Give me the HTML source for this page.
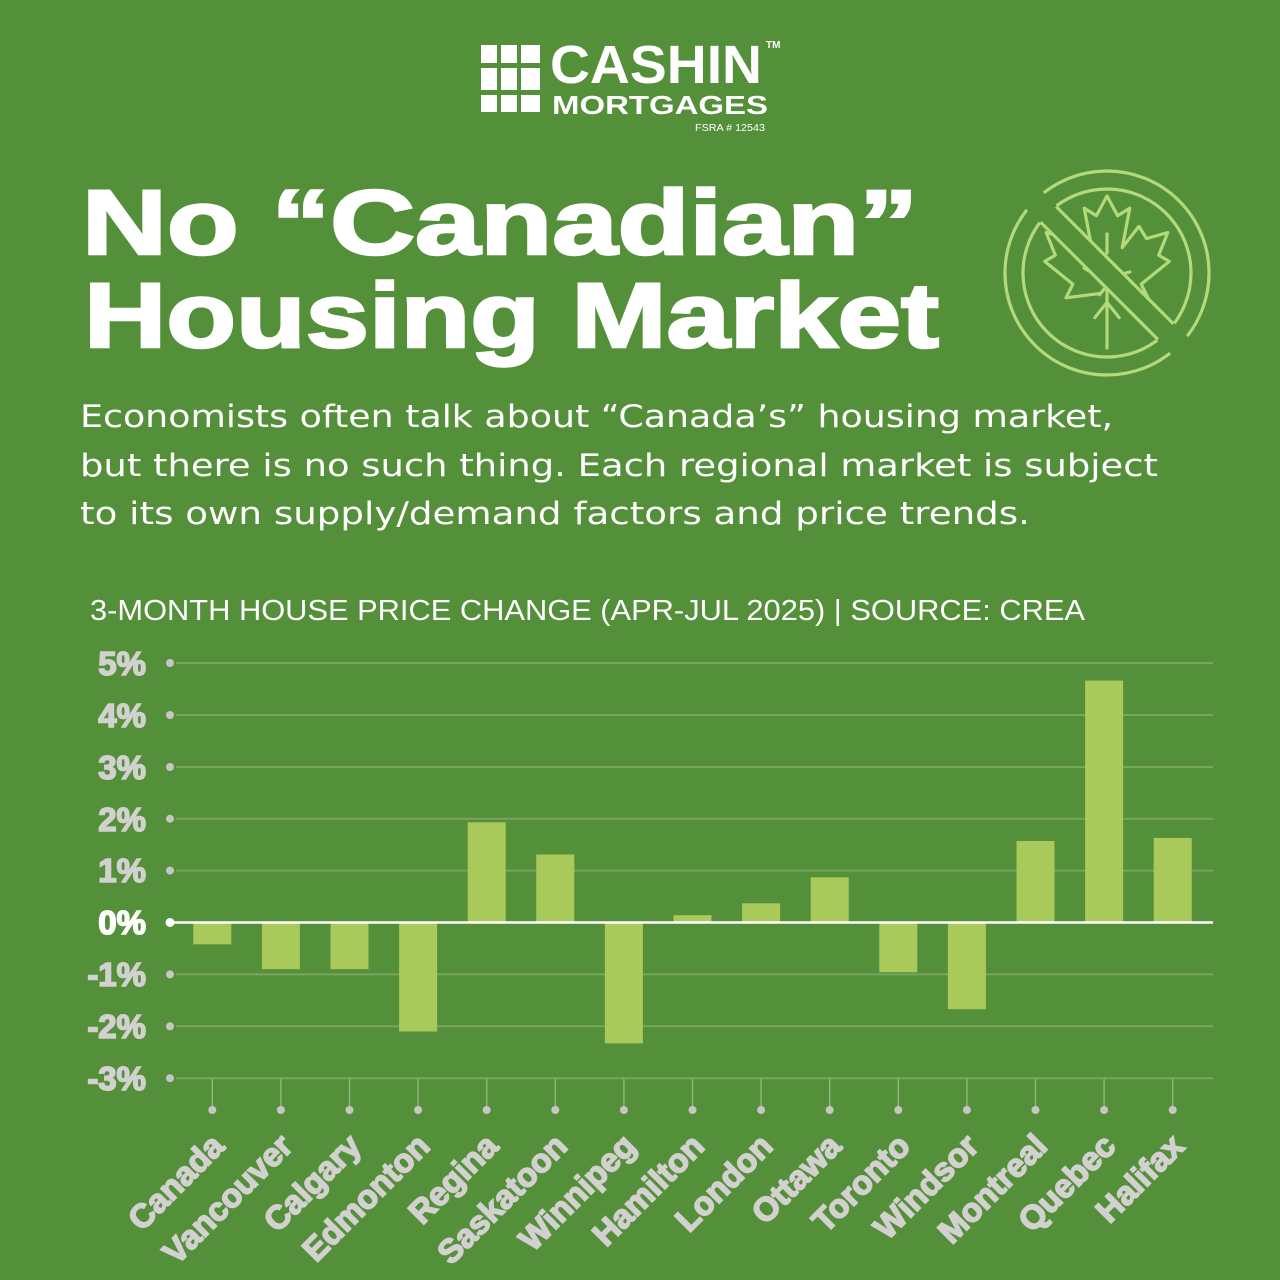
<!DOCTYPE html>
<html><head><meta charset="utf-8"><style>
html,body{margin:0;padding:0;background:#548f3a;}
svg{display:block;}
</style></head><body>
<svg width="1280" height="1280" viewBox="0 0 1280 1280" xmlns="http://www.w3.org/2000/svg">
<rect width="1280" height="1280" fill="#548f3a"/>

<!-- Logo -->
<g fill="#ffffff">
  <rect x="481" y="45" width="16" height="18"/><rect x="501" y="45" width="16" height="18"/><rect x="521" y="45" width="19" height="18"/>
  <rect x="481" y="68" width="16" height="22"/><rect x="501" y="68" width="16" height="22"/><rect x="521" y="68" width="19" height="22"/>
  <rect x="481" y="95" width="16" height="17"/><rect x="501" y="95" width="16" height="17"/><rect x="521" y="95" width="19" height="17"/>
</g>
<text x="550" y="83" font-family="Liberation Sans, sans-serif" font-weight="bold" font-size="54" fill="#fff" textLength="212" lengthAdjust="spacingAndGlyphs">CASHIN</text>
<text x="766" y="48" font-family="Liberation Sans, sans-serif" font-weight="bold" font-size="10" fill="#fff">TM</text>
<text x="552" y="114" font-family="Liberation Sans, sans-serif" font-weight="bold" font-size="26" fill="#fff" textLength="216" lengthAdjust="spacingAndGlyphs">MORTGAGES</text>
<text x="695" y="131" font-family="Liberation Sans, sans-serif" font-size="10" fill="#fff" textLength="70" lengthAdjust="spacingAndGlyphs">FSRA # 12543</text>

<!-- Title -->
<text x="82" y="254" font-family="Liberation Sans, DejaVu Sans, sans-serif" font-weight="bold" font-size="92" fill="#fff" stroke="#fff" stroke-width="2.5" textLength="836" lengthAdjust="spacingAndGlyphs">No “Canadian”</text>
<text x="84" y="347" font-family="Liberation Sans, DejaVu Sans, sans-serif" font-weight="bold" font-size="92" fill="#fff" stroke="#fff" stroke-width="2.5" textLength="855" lengthAdjust="spacingAndGlyphs">Housing Market</text>

<!-- Icon -->
<g fill="none" stroke="#b3da7a" stroke-width="3.2" stroke-linejoin="round" stroke-linecap="round">
  <circle cx="1107" cy="273" r="102"/>
  <circle cx="1107" cy="273" r="84"/>
  <g transform="translate(1107,272) scale(76)" stroke-width="0.042">
    <path d="M0,-1 L-0.14,-0.74 L-0.3,-0.84 L-0.2,-0.32 L-0.42,-0.6 L-0.52,-0.44 L-0.8,-0.52 L-0.68,-0.22 L-0.82,-0.14 L-0.45,0.16 L-0.54,0.34 L-0.08,0.28 L-0.1,0.3 L0,0.18 L0.1,0.3 L0.08,0.28 L0.54,0.34 L0.45,0.16 L0.82,-0.14 L0.68,-0.22 L0.8,-0.52 L0.52,-0.44 L0.42,-0.6 L0.2,-0.32 L0.3,-0.84 L0.14,-0.74 Z"/>
    <path d="M0,0.2 L0,1.0 M0,0.4 L-0.16,0.6 M0,0.4 L0.16,0.6 M0,-0.5 L0,-0.25 M-0.3,-0.05 L-0.12,0.05 M0.3,0 L0.12,0.05"/>
  </g>
</g>
<g transform="translate(1107,273) rotate(45)">
  <rect x="-110" y="-12" width="220" height="24" fill="#548f3a"/>
  <line x1="-83" y1="-11" x2="83" y2="-11" stroke="#b3da7a" stroke-width="3.2"/>
  <line x1="-83" y1="11" x2="83" y2="11" stroke="#b3da7a" stroke-width="3.2"/>
</g>

<!-- Subtitle -->
<g font-family="DejaVu Sans, Liberation Sans, sans-serif" font-size="31" fill="#fff" font-weight="normal">
  <text x="80" y="427" textLength="1033" lengthAdjust="spacingAndGlyphs">Economists often talk about “Canada’s” housing market,</text>
  <text x="80" y="476" textLength="1078" lengthAdjust="spacingAndGlyphs">but there is no such thing. Each regional market is subject</text>
  <text x="80" y="524" textLength="950" lengthAdjust="spacingAndGlyphs">to its own supply/demand factors and price trends.</text>
</g>

<!-- Chart title -->
<text x="90" y="620" font-family="Liberation Sans, sans-serif" font-size="29" fill="#fff" textLength="995" lengthAdjust="spacingAndGlyphs">3-MONTH HOUSE PRICE CHANGE (APR-JUL 2025) | SOURCE: CREA</text>

<!-- Gridlines -->
<g stroke="#79a561" stroke-width="2">
  <line x1="176" y1="663" x2="1213" y2="663"/>
  <line x1="176" y1="715" x2="1213" y2="715"/>
  <line x1="176" y1="767" x2="1213" y2="767"/>
  <line x1="176" y1="818.7" x2="1213" y2="818.7"/>
  <line x1="176" y1="870.6" x2="1213" y2="870.6"/>
  <line x1="176" y1="974.4" x2="1213" y2="974.4"/>
  <line x1="176" y1="1026.3" x2="1213" y2="1026.3"/>
  <line x1="176" y1="1078.2" x2="1213" y2="1078.2"/>
</g>
<g fill="#c9c5c5">
  <circle cx="170" cy="663" r="4"/><circle cx="170" cy="715" r="4"/><circle cx="170" cy="767" r="4"/>
  <circle cx="170" cy="818.7" r="4"/><circle cx="170" cy="870.6" r="4"/><circle cx="170" cy="974.4" r="4"/>
  <circle cx="170" cy="1026.3" r="4"/><circle cx="170" cy="1078.2" r="4"/>
</g>

<!-- Y labels -->
<g font-family="Liberation Sans, sans-serif" font-weight="bold" font-size="33" fill="#d3d0d0" stroke="#d3d0d0" stroke-width="1.6" text-anchor="end">
  <text x="146" y="675">5%</text>
  <text x="146" y="727">4%</text>
  <text x="146" y="779">3%</text>
  <text x="146" y="831">2%</text>
  <text x="146" y="882">1%</text>
  <text x="146" y="934" fill="#fff" stroke="#fff">0%</text>
  <text x="146" y="986">-1%</text>
  <text x="146" y="1038">-2%</text>
  <text x="146" y="1090">-3%</text>
</g>

<!-- Bars -->
<g fill="#a9ca5b">
  <rect x="193.3" y="922.5" width="38" height="21.8"/>
  <rect x="261.9" y="922.5" width="38" height="46.7"/>
  <rect x="330.5" y="922.5" width="38" height="46.7"/>
  <rect x="399.1" y="922.5" width="38" height="109"/>
  <rect x="467.7" y="822.3" width="38" height="100.2"/>
  <rect x="536.3" y="854.5" width="38" height="68"/>
  <rect x="604.9" y="922.5" width="38" height="120.9"/>
  <rect x="673.5" y="915.2" width="38" height="7.3"/>
  <rect x="742.1" y="903.3" width="38" height="19.2"/>
  <rect x="810.7" y="877.3" width="38" height="45.2"/>
  <rect x="879.3" y="922.5" width="38" height="49.8"/>
  <rect x="947.9" y="922.5" width="38" height="86.7"/>
  <rect x="1016.5" y="841" width="38" height="81.5"/>
  <rect x="1085.1" y="680.6" width="38" height="241.9"/>
  <rect x="1153.7" y="837.9" width="38" height="84.6"/>
</g>

<!-- Zero line -->
<line x1="170" y1="922.5" x2="1213" y2="922.5" stroke="#ffffff" stroke-width="2.5"/>
<circle cx="170" cy="922.5" r="4.5" fill="#fff"/>

<!-- X ticks -->
<g stroke="#8fb47a" stroke-width="1.5">
  <line x1="212.3" y1="1079" x2="212.3" y2="1108"/><line x1="280.9" y1="1079" x2="280.9" y2="1108"/>
  <line x1="349.5" y1="1079" x2="349.5" y2="1108"/><line x1="418.1" y1="1079" x2="418.1" y2="1108"/>
  <line x1="486.7" y1="1079" x2="486.7" y2="1108"/><line x1="555.3" y1="1079" x2="555.3" y2="1108"/>
  <line x1="623.9" y1="1079" x2="623.9" y2="1108"/><line x1="692.5" y1="1079" x2="692.5" y2="1108"/>
  <line x1="761.1" y1="1079" x2="761.1" y2="1108"/><line x1="829.7" y1="1079" x2="829.7" y2="1108"/>
  <line x1="898.3" y1="1079" x2="898.3" y2="1108"/><line x1="966.9" y1="1079" x2="966.9" y2="1108"/>
  <line x1="1035.5" y1="1079" x2="1035.5" y2="1108"/><line x1="1104.1" y1="1079" x2="1104.1" y2="1108"/>
  <line x1="1172.7" y1="1079" x2="1172.7" y2="1108"/>
</g>
<g fill="#c9c5c5">
  <circle cx="212.3" cy="1110" r="4"/><circle cx="280.9" cy="1110" r="4"/><circle cx="349.5" cy="1110" r="4"/>
  <circle cx="418.1" cy="1110" r="4"/><circle cx="486.7" cy="1110" r="4"/><circle cx="555.3" cy="1110" r="4"/>
  <circle cx="623.9" cy="1110" r="4"/><circle cx="692.5" cy="1110" r="4"/><circle cx="761.1" cy="1110" r="4"/>
  <circle cx="829.7" cy="1110" r="4"/><circle cx="898.3" cy="1110" r="4"/><circle cx="966.9" cy="1110" r="4"/>
  <circle cx="1035.5" cy="1110" r="4"/><circle cx="1104.1" cy="1110" r="4"/><circle cx="1172.7" cy="1110" r="4"/>
</g>

<!-- X labels -->
<g font-family="Liberation Sans, sans-serif" font-weight="bold" font-size="33" fill="#d3d0d0" stroke="#d3d0d0" stroke-width="1.6" text-anchor="end">
  <text transform="translate(226,1148) rotate(-45)">Canada</text>
  <text transform="translate(294.5,1148) rotate(-45)">Vancouver</text>
  <text transform="translate(363,1148) rotate(-45)">Calgary</text>
  <text transform="translate(431.5,1148) rotate(-45)">Edmonton</text>
  <text transform="translate(500,1148) rotate(-45)">Regina</text>
  <text transform="translate(569,1148) rotate(-45)">Saskatoon</text>
  <text transform="translate(637.5,1148) rotate(-45)">Winnipeg</text>
  <text transform="translate(706,1148) rotate(-45)">Hamilton</text>
  <text transform="translate(774.5,1148) rotate(-45)">London</text>
  <text transform="translate(843,1148) rotate(-45)">Ottawa</text>
  <text transform="translate(912,1148) rotate(-45)">Toronto</text>
  <text transform="translate(980.5,1148) rotate(-45)">Windsor</text>
  <text transform="translate(1049,1148) rotate(-45)">Montreal</text>
  <text transform="translate(1117.5,1148) rotate(-45)">Quebec</text>
  <text transform="translate(1186,1148) rotate(-45)">Halifax</text>
</g>
</svg>
</body></html>
